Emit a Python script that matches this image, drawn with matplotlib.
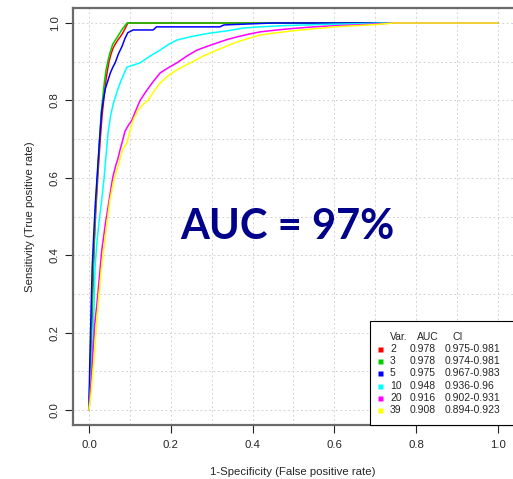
import matplotlib
matplotlib.use("Agg")
import matplotlib.pyplot as plt
from matplotlib.patches import Rectangle
import numpy as np

# ROC curves (false positive rate, true positive rate) per number of variables
fpr_2 = [0, 0.003, 0.007, 0.010, 0.013, 0.017, 0.022, 0.027, 0.032, 0.036, 0.040, 0.044,
         0.049, 0.054, 0.059, 0.064, 0.070, 0.077, 0.083, 0.088, 0.095, 0.2, 0.5, 1.0]
tpr_2 = [0, 0.10, 0.22, 0.33, 0.43, 0.52, 0.61, 0.69, 0.76, 0.80, 0.84, 0.87,
         0.90, 0.92, 0.935, 0.945, 0.955, 0.965, 0.975, 0.985, 1.0, 1.0, 1.0, 1.0]

fpr_3 = [0, 0.003, 0.006, 0.009, 0.012, 0.016, 0.021, 0.026, 0.030, 0.034, 0.038, 0.042,
         0.047, 0.052, 0.058, 0.064, 0.070, 0.076, 0.082, 0.088, 0.093, 1.0]
tpr_3 = [0, 0.10, 0.21, 0.32, 0.42, 0.52, 0.61, 0.70, 0.77, 0.81, 0.85, 0.88,
         0.905, 0.925, 0.945, 0.955, 0.965, 0.975, 0.985, 0.993, 1.0, 1.0]

fpr_5 = [0, 0.002, 0.005, 0.008, 0.012, 0.016, 0.021, 0.026, 0.031, 0.035, 0.040, 0.046,
         0.052, 0.058, 0.064, 0.072, 0.081, 0.088, 0.095, 0.108, 0.157, 0.165, 0.32, 0.33,
         0.45, 1.0]
tpr_5 = [0, 0.12, 0.25, 0.37, 0.46, 0.54, 0.62, 0.70, 0.77, 0.80, 0.83, 0.85,
         0.87, 0.885, 0.897, 0.92, 0.94, 0.96, 0.975, 0.982, 0.982, 0.99, 0.99, 0.995,
         1.0, 1.0]

fpr_10 = [0, 0.004, 0.008, 0.012, 0.015, 0.020, 0.025, 0.031, 0.037, 0.042, 0.047, 0.053,
          0.059, 0.065, 0.071, 0.078, 0.086, 0.093, 0.105, 0.125, 0.15, 0.174, 0.195, 0.215,
          0.25, 0.296, 0.34, 0.377, 0.418, 0.47, 0.53, 0.6, 0.66, 0.72, 1.0]
tpr_10 = [0, 0.06, 0.14, 0.25, 0.37, 0.44, 0.49, 0.54, 0.60, 0.66, 0.72, 0.76,
          0.79, 0.81, 0.83, 0.85, 0.87, 0.886, 0.89, 0.897, 0.915, 0.93, 0.945, 0.956,
          0.965, 0.974, 0.98, 0.987, 0.99, 0.993, 0.995, 0.997, 0.998, 1.0, 1.0]

fpr_20 = [0, 0.004, 0.007, 0.010, 0.014, 0.020, 0.026, 0.031, 0.040, 0.049, 0.058, 0.065,
          0.071, 0.076, 0.082, 0.088, 0.096, 0.105, 0.115, 0.125, 0.142, 0.158, 0.174, 0.195,
          0.215, 0.24, 0.264, 0.29, 0.32, 0.34, 0.362, 0.39, 0.418, 0.46, 0.5, 0.55,
          0.6, 0.65, 0.71, 0.745, 1.0]
tpr_20 = [0, 0.05, 0.10, 0.155, 0.22, 0.28, 0.35, 0.41, 0.48, 0.54, 0.60, 0.63,
          0.65, 0.672, 0.695, 0.72, 0.735, 0.749, 0.775, 0.80, 0.827, 0.85, 0.871, 0.885,
          0.897, 0.915, 0.93, 0.94, 0.951, 0.958, 0.964, 0.971, 0.977, 0.982, 0.986, 0.99,
          0.993, 0.995, 0.998, 1.0, 1.0]

fpr_39 = [0, 0.005, 0.009, 0.013, 0.017, 0.023, 0.031, 0.040, 0.051, 0.060, 0.071, 0.083,
          0.093, 0.100, 0.108, 0.120, 0.132, 0.144, 0.160, 0.174, 0.195, 0.215, 0.235, 0.254,
          0.28, 0.313, 0.34, 0.362, 0.39, 0.418, 0.46, 0.5, 0.55, 0.6, 0.65, 0.7, 0.745, 1.0]
tpr_39 = [0, 0.04, 0.09, 0.14, 0.20, 0.28, 0.37, 0.45, 0.54, 0.59, 0.63, 0.675,
          0.69, 0.72, 0.749, 0.775, 0.79, 0.80, 0.825, 0.845, 0.865, 0.879, 0.89, 0.90,
          0.915, 0.93, 0.942, 0.951, 0.96, 0.969, 0.975, 0.98, 0.985, 0.99, 0.993, 0.996,
          1.0, 1.0]

n_vars = ["2", "3", "5", "10", "20", "39"]
auc_vals = ["0.978", "0.978", "0.975", "0.948", "0.916", "0.908"]
ci_vals = ["0.975-0.981", "0.974-0.981", "0.967-0.983", "0.936-0.96", "0.902-0.931", "0.894-0.923"]
colors = ["#FF0000", "#00CD00", "#0000FF", "#00FFFF", "#FF00FF", "#FFFF00"]
curves = [(fpr_2, tpr_2), (fpr_3, tpr_3), (fpr_5, tpr_5),
          (fpr_10, tpr_10), (fpr_20, tpr_20), (fpr_39, tpr_39)]

tick_vals = [0.0, 0.2, 0.4, 0.6, 0.8, 1.0]
grid_vals = np.round(np.arange(0, 1.01, 0.1), 1)

plt.rcParams["font.family"] = ["Liberation Sans", "DejaVu Sans"]
TXT = "#262626"

fig = plt.figure(figsize=(5.13, 4.79), dpi=100)
ax = fig.add_axes([0.1415, 0.1117, 0.8612, 0.8726])
ax.set_xlim(-0.04, 1.04)
ax.set_ylim(-0.04, 1.04)

# dotted reference grid every 0.1
for g in grid_vals:
    ax.axvline(g, color="#d4d4d4", lw=0.7, ls=(0, (2, 2.5)), zorder=0)
    ax.axhline(g, color="#d4d4d4", lw=0.7, ls=(0, (2, 2.5)), zorder=0)

for (fx, ty), c in zip(curves, colors):
    ax.plot(fx, ty, color=c, lw=1.1, zorder=2)

ax.set_xticks(tick_vals)
ax.set_yticks(tick_vals)
ax.set_xticklabels([f"{v:.1f}" for v in tick_vals])
ax.set_yticklabels([f"{v:.1f}" for v in tick_vals], rotation=90, va="center")
ax.tick_params(axis="both", length=5.8, width=0.8, color="#222222",
               labelsize=8.2, labelcolor=TXT)
ax.tick_params(axis="x", pad=5)
ax.tick_params(axis="y", pad=3.5)

for s in ax.spines.values():
    s.set_color("#6a6a6a")
    s.set_linewidth(1.6)

# axis titles
fig.text(293 / 513, 1 - 472 / 479, "1-Specificity (False positive rate)",
         fontsize=8.2, color=TXT, ha="center", va="center")
fig.text(30 / 513, 1 - 216.5 / 479, "Sensitivity (True positive rate)",
         fontsize=8.2, color=TXT, ha="center", va="center", rotation=90)

ax.text(0.222, 0.473, "AUC = 97%", fontsize=30, fontweight="bold", family="Lato",
        color="#00008B", va="center", ha="left", zorder=4)

# legend table
box = Rectangle((0.687, -0.04), 0.353, 0.27, facecolor="white", edgecolor="black",
                lw=0.8, zorder=5, clip_on=False)
ax.add_patch(box)
fs = 7.5
y0 = 0.189
dy = 0.0315
ax.text(0.736, y0, "Var.", fontsize=fs, va="center", ha="left", zorder=6, color=TXT)
ax.text(0.803, y0, "AUC", fontsize=fs, va="center", ha="left", zorder=6, color=TXT)
ax.text(0.888, y0, "CI", fontsize=fs, va="center", ha="left", zorder=6, color=TXT)
for i, (nv, a, ci, c) in enumerate(zip(n_vars, auc_vals, ci_vals, colors)):
    y = y0 - dy * (i + 1)
    ax.plot([0.711], [y], marker="s", ms=3.6, color=c, mec="none", zorder=6, clip_on=False)
    ax.text(0.736, y, nv, fontsize=fs, va="center", ha="left", zorder=6, color=TXT)
    ax.text(0.783, y, a, fontsize=fs, va="center", ha="left", zorder=6, color=TXT)
    ax.text(0.869, y, ci, fontsize=fs, va="center", ha="left", zorder=6, color=TXT)

fig.savefig("out.png", dpi=100)
